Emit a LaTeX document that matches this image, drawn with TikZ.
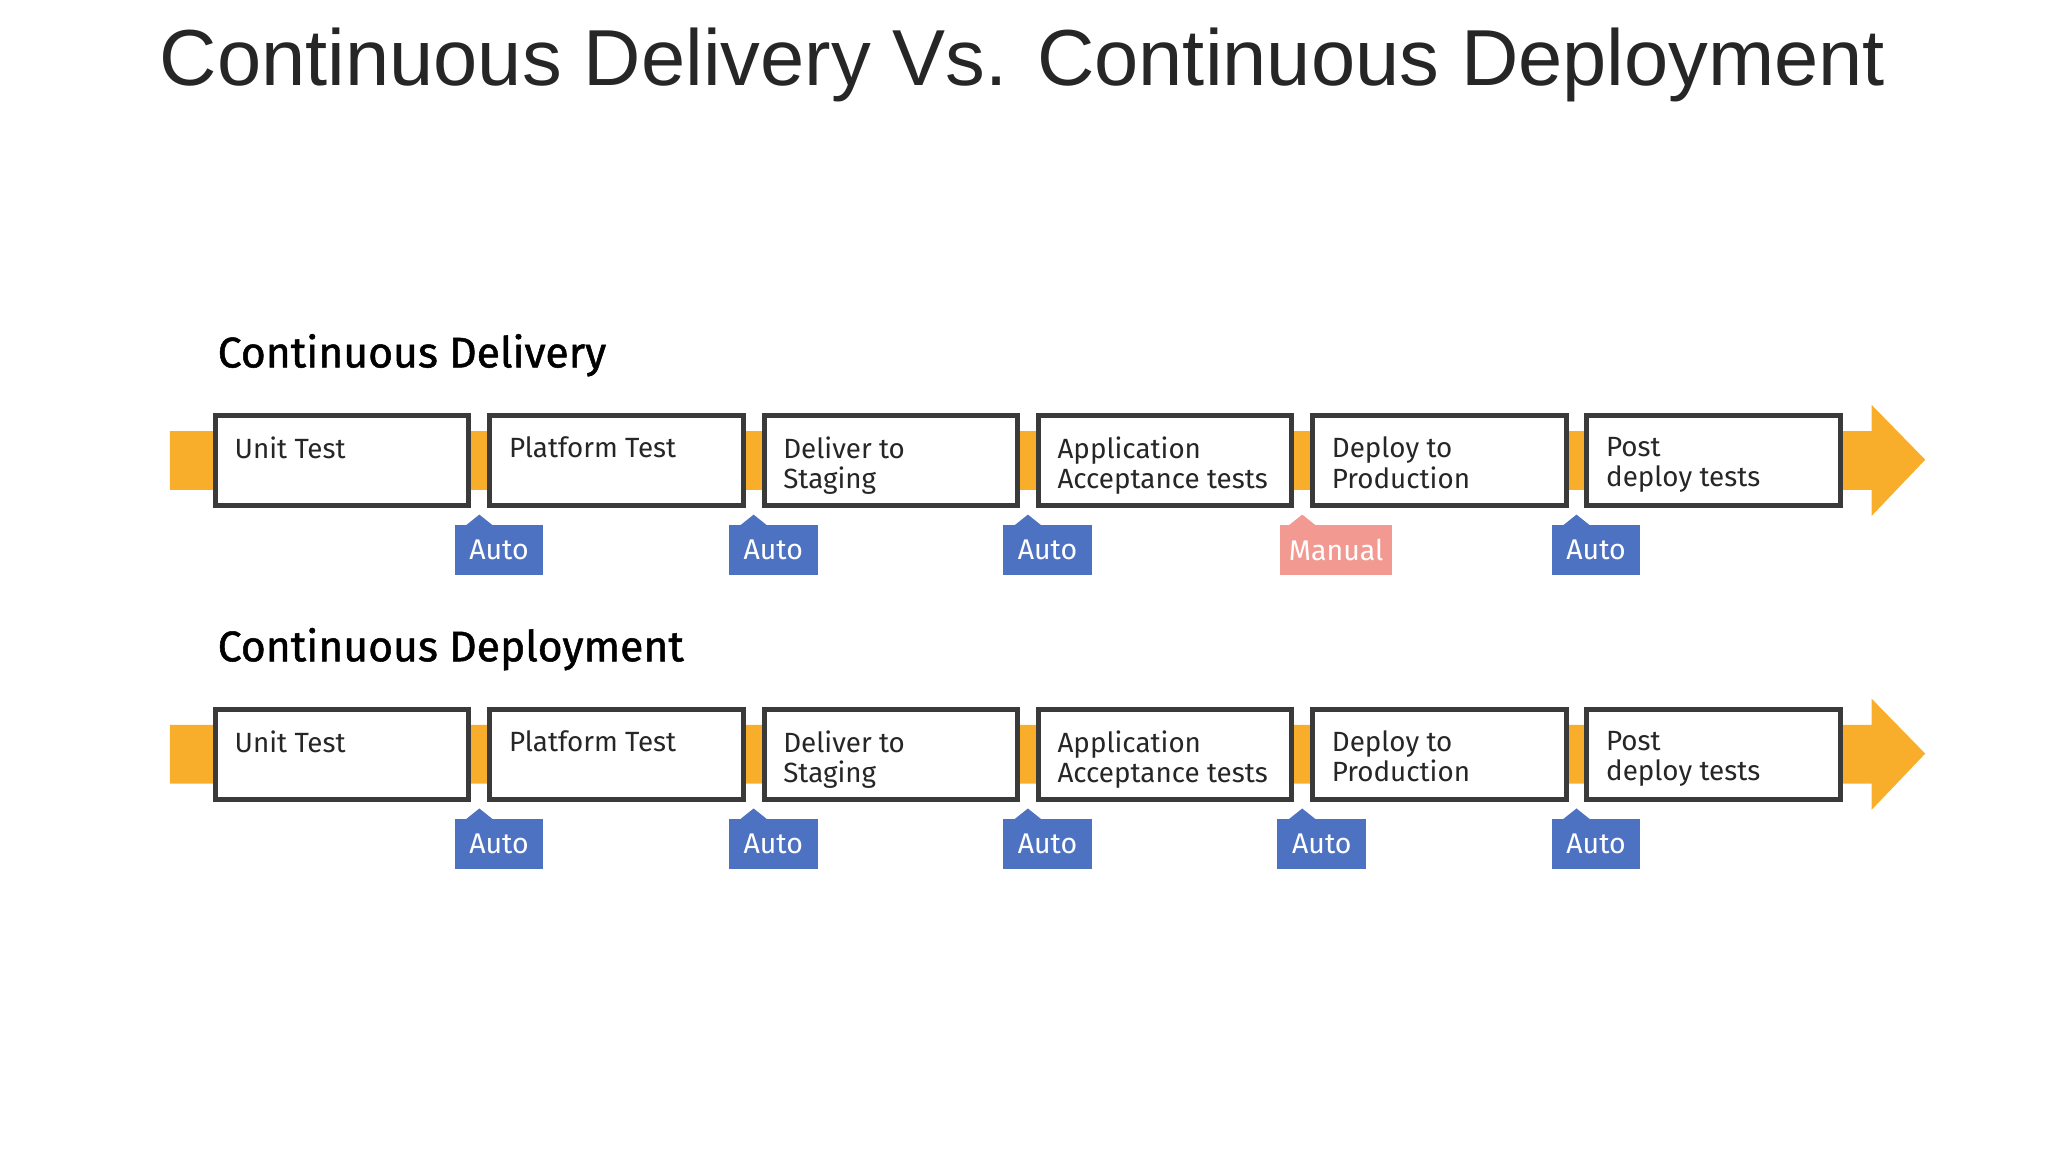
\documentclass[tikz,border=0pt]{standalone}
\usepackage{fontspec}
\setmainfont{Liberation Sans}
\newfontfamily\diag{Fira Sans}
\definecolor{band}{HTML}{F9AE2B}
\definecolor{bord}{HTML}{3A3A3A}
\definecolor{autoc}{HTML}{4E72C2}
\definecolor{manc}{HTML}{F29A92}
\begin{document}
\begin{tikzpicture}[x=0.01cm,y=-0.01cm,
  stagebox/.style={draw=bord,line width=1.1pt,fill=white,minimum width=194*0.01cm,minimum height=69*0.01cm,inner sep=0pt},
  lbl/.style={font=\diag\fontsize{6.05}{6.55}\selectfont,text=black!85,align=left,anchor=north west,inner sep=0pt},
  badge/.style={fill=#1,text=white,font=\diag\fontsize{6.2}{7}\selectfont,minimum width=68*0.01cm,minimum height=38*0.01cm,inner sep=0pt},
  head/.style={font=\diag\fontsize{9.3}{11}\selectfont\addfontfeature{FakeBold=1.2},anchor=west,inner sep=0pt}]
\useasboundingbox (0,0) rectangle (1568,882);
\node (title) at (783,50) {\fontsize{17.3}{20}\selectfont\color{black!85}Continuous Delivery Vs. Continuous Deployment};
\foreach \r/\name/\dy in {1/Continuous Delivery/0,2/Continuous Deployment/225}{
  \node[head] (h\r) at (166,272+\dy) {\name};
  \fill[band] (130,330+\dy) rectangle (1433,375+\dy) -- (1433,310+\dy) -- (1474,352+\dy) -- (1433,395+\dy) -- cycle;
  \foreach \i/\t [count=\k] in {0/Unit Test,1/Platform Test,2/Deliver to\\Staging,3/Application\\Acceptance tests,4/Deploy to\\Production,5/Post\\deploy tests}{
    \node[stagebox] (b\r\k) at ({262+210*\i},{352.5+\dy}) {};
    \node[lbl] (t\r\k) at ({179+210*\i},{334+\dy}) {\t};
  }
  \foreach \i in {1,...,5}{
    \pgfmathsetmacro\xc{382+210*(\i-1)}
    \ifnum\r=1 \ifnum\i=4
      \fill[manc] ({\xc-25},{402+\dy}) -- ({\xc-15},{394+\dy}) -- ({\xc-5},{402+\dy}) -- cycle;
      \node[badge=manc,minimum width=86*0.01cm] (a\r\i) at ({\xc+11},{421+\dy}) {Manual};
    \else
      \fill[autoc] ({\xc-25},{402+\dy}) -- ({\xc-15},{394+\dy}) -- ({\xc-5},{402+\dy}) -- cycle;
      \node[badge=autoc] (a\r\i) at (\xc,{421+\dy}) {Auto};
    \fi\else
      \fill[autoc] ({\xc-25},{402+\dy}) -- ({\xc-15},{394+\dy}) -- ({\xc-5},{402+\dy}) -- cycle;
      \node[badge=autoc] (a\r\i) at (\xc,{421+\dy}) {Auto};
    \fi
  }
}
\end{tikzpicture}
\end{document}
